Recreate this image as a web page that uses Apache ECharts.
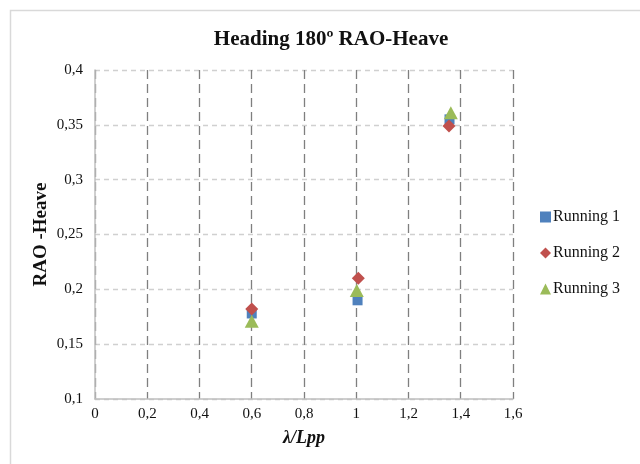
<!DOCTYPE html>
<html><head><meta charset="utf-8">
<script src="https://cdn.jsdelivr.net/npm/echarts@6/dist/echarts.min.js"></script>
<style>html,body{margin:0;padding:0;background:#fff}#c{width:640px;height:464px}</style>
</head><body><div id="c"></div>
<script>
const seriesNames = ['Running 1', 'Running 2', 'Running 3'];
const running1 = [[0.6, 0.178], [1.005, 0.190], [1.357, 0.355]];
const running2 = [[0.6, 0.182], [1.008, 0.210], [1.355, 0.349]];
const running3 = [[0.6, 0.171], [1.002, 0.199], [1.362, 0.361]];
const colors = ['#4F81BD', '#C0504D', '#9BBB59'];
const symbols = ['rect', 'diamond', 'triangle'];
const symbolSizes = [[10,10], [13,13], [14,13]];
const fmt = v => String(Math.round(v*100)/100).replace('.', ',');
const chart = echarts.init(document.getElementById('c'));
const data = [running1, running2, running3];
chart.setOption({
  animation: false,
  textStyle: { fontFamily: 'Liberation Serif' },
  graphic: [{ type: 'rect', shape: { x: 10.5, y: 10.5, width: 640, height: 470 }, style: { fill: 'none', stroke: '#d9d9d9', lineWidth: 1.5 }, silent: true }],
  title: { text: 'Heading 180º RAO-Heave', left: 326, textAlign: 'center', top: 24,
    textStyle: { fontFamily: 'Liberation Serif', fontSize: 21, fontWeight: 'bold', color: '#111' } },
  legend: { orient: 'vertical', left: 535, top: 204, itemGap: 20, itemWidth: 11, itemHeight: 11,
    textStyle: { fontFamily: 'Liberation Serif', fontSize: 16, color: '#111', padding: [0,0,0,-3] },
    data: seriesNames.map((n,i)=>({ name: n, icon: symbols[i] })) },
  grid: { left: 95, right: 127, top: 70, bottom: 65 },
  xAxis: { type: 'value', min: 0, max: 1.6, interval: 0.2,
    name: 'λ/Lpp', nameLocation: 'middle', nameGap: 30, nameMoveOverlap: false,
    nameTextStyle: { fontFamily: 'Liberation Serif', fontSize: 18, fontWeight: 'bold', fontStyle: 'italic', color: '#111' },
    axisLine: { lineStyle: { color: '#bfbfbf', width: 1.5 } }, axisTick: { show: false },
    axisLabel: { formatter: fmt, fontSize: 15, color: '#111', margin: 8 },
    splitLine: { lineStyle: { color: '#7f7f7f', type: [9, 5], width: 1.3 } } },
  yAxis: { type: 'value', min: 0.1, max: 0.4, interval: 0.05,
    name: 'RAO -Heave', nameLocation: 'middle', nameGap: 44, nameRotate: 90, nameMoveOverlap: false,
    nameTextStyle: { fontFamily: 'Liberation Serif', fontSize: 19, fontWeight: 'bold', color: '#111' },
    axisLine: { show: true, lineStyle: { color: '#bfbfbf', width: 1.5 } }, axisTick: { show: false },
    axisLabel: { formatter: fmt, fontSize: 15, color: '#111', margin: 12 },
    splitLine: { lineStyle: { color: '#d0d0d0', type: [5, 4], width: 1.3 } } },
  series: data.map((d,i)=>({ name: seriesNames[i], type: 'scatter', data: d,
    symbol: symbols[i], symbolSize: symbolSizes[i], itemStyle: { color: colors[i], opacity: 1 } }))
});
</script></body></html>
